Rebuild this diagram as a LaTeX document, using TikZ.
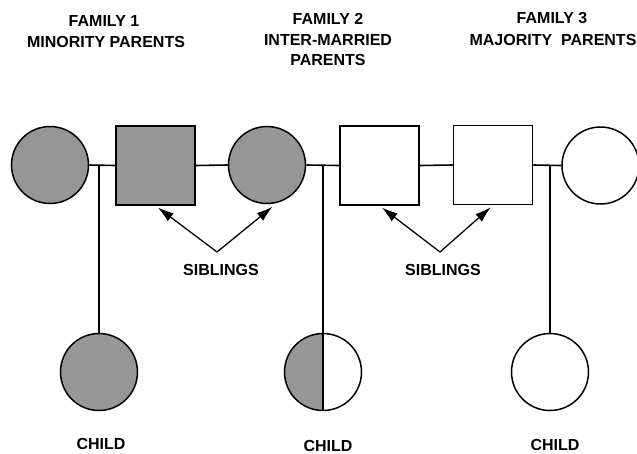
\documentclass[tikz,border=0pt]{standalone}
\usepackage{fontspec}
\setmainfont{Liberation Sans}
\usetikzlibrary{arrows.meta}
\definecolor{sgray}{RGB}{150,150,150}
\tikzset{
  lbl/.style={anchor=base, inner sep=0pt, font=\fontsize{16}{20}\selectfont\bfseries},
  person/.style={draw, line width=1.5pt, inner sep=0pt},
  female/.style={person, circle, minimum size=77pt},
  male/.style={person, rectangle, minimum size=79pt},
  minority/.style={fill=sgray},
  link/.style={line width=1.6pt},
  sibarrow/.style={line width=1.3pt, -{Latex[length=16pt,width=10pt]}, shorten >=3pt}
}
\begin{document}
\begin{tikzpicture}[x=1pt, y=-1pt]
\useasboundingbox (0,0) rectangle (637,453);
% titles
\node[lbl] (t1a) at (104,26.5) {FAMILY 1};
\node[lbl] (t1b) at (106,47.5) {MINORITY PARENTS};
\node[lbl] (t2a) at (328,24.5) {FAMILY 2};
\node[lbl] (t2b) at (328,45.5) {INTER-MARRIED};
\node[lbl] (t2c) at (328,65.5) {PARENTS};
\node[lbl] (t3a) at (552,23.5) {FAMILY 3};
\node[lbl] (t3b) at (553,45.5) {MAJORITY~~PARENTS};
% top row
\node[female, minority] (c1) at (50,165) {};
\node[male, minority] (s1) at (155.5,165.5) {};
\node[female, minority] (c2) at (267,165) {};
\node[male] (s2) at (379.5,165.5) {};
\node[male] (s3) at (493,165) {};
\node[female] (c3) at (600.5,165.5) {};
\draw[link] (c1.east) -- (s1.west);
\draw[link] (s1.east) -- (c2.west);
\draw[link] (c2.east) -- (s2.west);
\draw[link] (s2.east) -- (s3.west);
\draw[link] (s3.east) -- (c3.west);
% children
\node[female, minority] (k1) at (99,372) {};
\node[female, path picture={
   \fill[sgray] (path picture bounding box.north west) rectangle (path picture bounding box.south);
   \draw[line width=1.5pt] (path picture bounding box.north) -- (path picture bounding box.south);
 }] (k2) at (323,372) {};
\node[female] (k3) at (550,372) {};
\coordinate (m1) at (99,165);
\coordinate (m2) at (323,165);
\coordinate (m3) at (550,165);
\draw[link] (m1) -- (k1.north);
\draw[link] (m2) -- (k2.north);
\draw[link] (m3) -- (k3.north);
% siblings
\coordinate (a1) at (217,252);
\coordinate (a2) at (440,252);
\draw[sibarrow] (a1) -- (s1.south);
\draw[sibarrow, shorten >=6pt] (a1) -- (c2.-75);
\draw[sibarrow] (a2) -- (s2.south);
\draw[sibarrow] (a2) -- (s3.south);
\node[lbl] (sib1) at (221,275.5) {SIBLINGS};
\node[lbl] (sib2) at (443,275.5) {SIBLINGS};
% child labels
\node[lbl] (ch1) at (101,449.5) {CHILD};
\node[lbl] (ch2) at (328,451) {CHILD};
\node[lbl] (ch3) at (555,450.5) {CHILD};
\end{tikzpicture}
\end{document}
